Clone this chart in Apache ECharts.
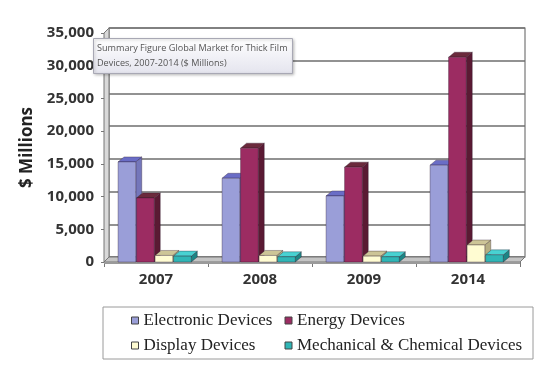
<!DOCTYPE html>
<html>
<head>
<meta charset="utf-8">
<script src="https://cdn.jsdelivr.net/npm/echarts@6/dist/echarts.min.js"></script>
<style>html,body{margin:0;padding:0;background:#fff}#c{width:549px;height:371px}</style>
</head>
<body>
<div id="c"></div>
<script>
const categories = ['2007', '2008', '2009', '2014'];
const electronic = [15300, 12800, 10100, 14800];
const energy = [9800, 17400, 14500, 31300];
const display = [1000, 1000, 900, 2600];
const mechanical = [900, 800, 800, 1100];
const seriesNames = ['Electronic Devices', 'Energy Devices', 'Display Devices', 'Mechanical & Chemical Devices'];
const yMin = 0, yMax = 35000, yStep = 5000;
const titleText = 'Summary Figure Global Market for Thick Film\nDevices, 2007-2014 ($ Millions)';

const palette = [
  { front: '#9a9ed8', top: '#6a6dc6', side: '#7477bb' },
  { front: '#9c2c62', top: '#6b2a3c', side: '#5a1a33' },
  { front: '#fffcd2', top: '#cdc597', side: '#b5ae82' },
  { front: '#2fb6b6', top: '#48d2d2', side: '#1d8585' }
];
const DX = 6, DY = 5;

function makeBar(k) {
  const c = palette[k];
  return function (params, api) {
    const ci = api.value(0), v = api.value(1);
    const base = api.coord([ci, 0]);
    const top = api.coord([ci, v]);
    const band = api.size([1, 0])[0];
    const slot = band * 0.178;
    const x0 = base[0] - band * 0.365 + k * slot;
    const w = slot - 0.8;
    const y0 = base[1], y1 = top[1];
    const stroke = 'rgba(40,20,40,0.55)';
    return {
      type: 'group',
      children: [
        { type: 'polygon', shape: { points: [[x0 + w, y1], [x0 + w + DX, y1 - DY], [x0 + w + DX, y0 - DY], [x0 + w, y0]] }, style: { fill: c.side, stroke: stroke, lineWidth: 0.6 } },
        { type: 'polygon', shape: { points: [[x0, y1], [x0 + DX, y1 - DY], [x0 + w + DX, y1 - DY], [x0 + w, y1]] }, style: { fill: c.top, stroke: stroke, lineWidth: 0.6 } },
        { type: 'rect', shape: { x: x0, y: y1, width: w, height: y0 - y1 }, style: { fill: c.front, stroke: stroke, lineWidth: 0.6 } }
      ]
    };
  };
}

function renderFloor(params, api) {
  const p0 = api.coord([0, yMin]);
  const pt = api.coord([0, yMax]);
  const band = api.size([1, 0])[0];
  const left = p0[0] - band / 2;
  const right = left + band * categories.length;
  const y = p0[1];
  return {
    type: 'group',
    children: [
      { type: 'polygon', shape: { points: [[left, pt[1]], [left + DX - 1, pt[1] - DY], [left + DX - 1, y - DY], [left, y]] }, style: { fill: '#d9d9d9', stroke: '#777', lineWidth: 1 } },
      { type: 'polygon', shape: { points: [[left, y], [left + DX - 1, y - DY], [right + DX - 1, y - DY], [right, y]] }, style: { fill: '#c4c4c4', stroke: '#777', lineWidth: 1 } },
      { type: 'rect', shape: { x: left, y: y, width: right - left, height: 2 }, style: { fill: '#9a9a9a' } }
    ]
  };
}

const series = [
  { type: 'custom', name: 'floor', xAxisIndex: 0, yAxisIndex: 0, renderItem: renderFloor, data: [[0, 0]], silent: true, z: 1 }
];
[electronic, energy, display, mechanical].forEach(function (vals, k) {
  series.push({
    type: 'custom',
    name: seriesNames[k],
    xAxisIndex: 0, yAxisIndex: 0,
    renderItem: makeBar(k),
    itemStyle: { color: palette[k].front, borderColor: '#444', borderWidth: 1 },
    encode: { x: 0, y: 1 },
    data: vals.map(function (v, i) { return [i, v]; }),
    z: 2 + k
  });
});

const chart = echarts.init(document.getElementById('c'), null, { renderer: 'canvas' });
chart.setOption({
  animation: false,
  backgroundColor: '#fff',
  title: {
    text: titleText,
    left: 93, top: 38,
    padding: [3, 5, 3, 4],
    backgroundColor: { type: 'linear', x: 0, y: 0, x2: 0, y2: 1, colorStops: [{ offset: 0, color: '#ffffff' }, { offset: 1, color: '#e4e4ee' }] },
    borderColor: '#a8a8b4', borderWidth: 1,
    shadowColor: 'rgba(0,0,0,0.25)', shadowBlur: 3, shadowOffsetX: 1, shadowOffsetY: 1,
    textStyle: { fontFamily: 'Open Sans', fontSize: 9.1, fontWeight: 'normal', color: '#555', lineHeight: 15 },
    z: 20
  },
  grid: [
    { left: 104, right: 29, top: 33, bottom: 109 },
    { left: 109, right: 24, top: 28, bottom: 114, show: true, borderColor: '#777', borderWidth: 1.2, backgroundColor: '#fff', z: 0 }
  ],
  xAxis: [
    {
      gridIndex: 0, type: 'category', data: categories,
      axisLine: { show: true, lineStyle: { color: '#777', width: 1 } },
      axisTick: { show: true, length: 5, lineStyle: { color: '#777' } },
      axisLabel: { margin: 10, fontFamily: 'Open Sans', fontWeight: 'bold', fontSize: 15, color: '#333' }
    },
    { gridIndex: 1, type: 'category', data: categories, show: false }
  ],
  yAxis: [
    {
      gridIndex: 0, type: 'value', min: yMin, max: yMax, interval: yStep,
      name: '$ Millions', nameLocation: 'middle', nameGap: 64, nameRotate: 90,
      nameTextStyle: { fontFamily: 'Open Sans', fontWeight: 'bold', fontSize: 17, color: '#222' },
      axisLine: { show: true, lineStyle: { color: '#777', width: 1 } },
      axisTick: { show: true, length: 3, lineStyle: { color: '#777' } },
      splitLine: { show: false },
      axisLabel: {
        margin: 10, fontFamily: 'Open Sans', fontWeight: 'bold', fontSize: 15, color: '#333',
        formatter: function (v) { return v.toLocaleString('en-US'); }
      }
    },
    {
      gridIndex: 1, type: 'value', min: yMin, max: yMax, interval: yStep,
      axisLine: { show: false }, axisTick: { show: false }, axisLabel: { show: false },
      splitLine: { show: true, lineStyle: { color: '#6e6e6e', width: 1.5 } }
    }
  ],
  legend: {
    left: 103, top: 307, orient: 'horizontal', width: 410,
    itemWidth: 7, itemHeight: 7, itemGap: 0,
    padding: [1, 4, 1, 28],
    borderColor: '#9a9a9a', borderWidth: 1, backgroundColor: '#fff',
    icon: 'rect', selectedMode: false,
    itemStyle: { borderColor: '#444', borderWidth: 1 },
    textStyle: { fontFamily: 'Liberation Serif', fontSize: 17, color: '#222', width: 141, lineHeight: 25 },
    data: [
      { name: seriesNames[0] },
      { name: seriesNames[1] },
      { name: seriesNames[2] },
      { name: seriesNames[3], textStyle: { width: 232 } }
    ]
  },
  series: series
});
</script>
</body>
</html>
